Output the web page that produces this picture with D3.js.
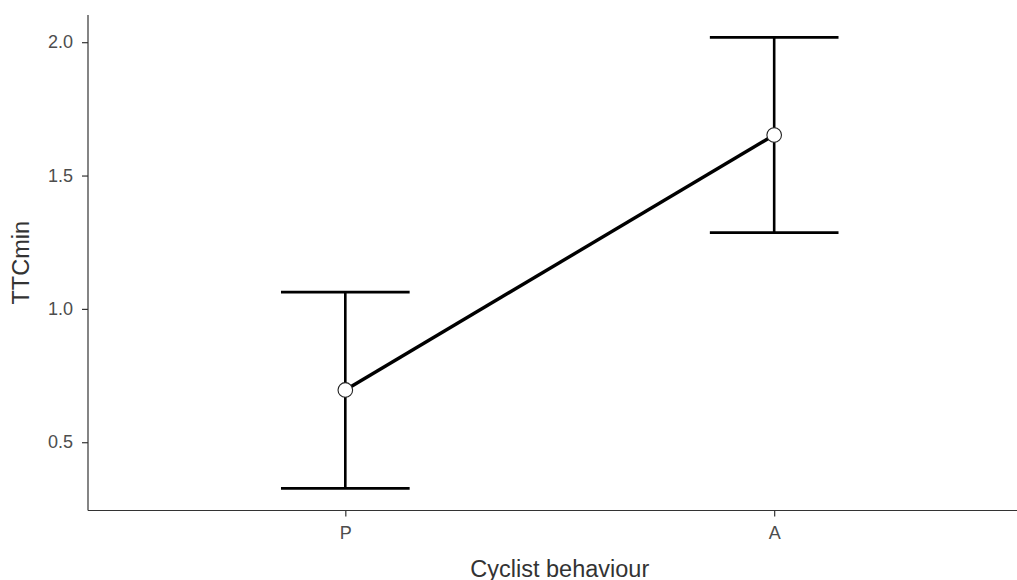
<!DOCTYPE html>
<html><head><meta charset="utf-8">
<script src="https://cdn.jsdelivr.net/npm/d3@7"></script>
<style>body{margin:0;background:#fff;} svg{display:block;}</style>
</head><body>
<svg id="chart" width="1017" height="580"></svg>
<script>
const categories = ["P", "A"];
const means = [0.696, 1.652];
const upper = [1.063, 2.018];
const lower = [0.327, 1.286];
const yTicks = [0.5, 1.0, 1.5, 2.0];
const xTitle = "Cyclist behaviour";
const yTitle = "TTCmin";

(function () {
const data = categories.map((c, i) => ({c, m: means[i], hi: upper[i], lo: lower[i]}));
const svg = d3.select("#chart");
const pLeft = 88, pRight = 1031.5, pTop = 15, pBottom = 510.5;

const x = d3.scalePoint().domain(categories).range([pLeft, pRight]).padding(0.6);
const y = d3.scaleLinear().domain([0.244, 2.102]).range([pBottom, pTop]);
const capHalf = x.step() * 0.15;

const font = "'Liberation Sans', Arial, sans-serif";
const yAxis = svg.append("g").attr("transform", `translate(${pLeft},0)`)
  .call(d3.axisLeft(y).tickValues(yTicks).tickFormat(d3.format(".1f")).tickSize(6).tickPadding(9).tickSizeOuter(0));
const xAxis = svg.append("g").attr("transform", `translate(0,${pBottom})`)
  .call(d3.axisBottom(x).tickSize(6).tickPadding(10).tickSizeOuter(0));
[yAxis, xAxis].forEach(g => {
  g.select(".domain").attr("stroke", "#333").attr("stroke-width", 1.2);
  g.selectAll(".tick line").attr("stroke", "#333").attr("stroke-width", 1.2);
  g.selectAll(".tick text").attr("fill", "#4d4d4d").style("font-family", font).style("font-size", "18px");
});
yAxis.select(".domain").attr("d", `M0,${pTop}V${pBottom}`);
xAxis.select(".domain").attr("d", `M${pLeft},0H${pRight}`);

const eb = svg.append("g").attr("stroke", "#000").attr("stroke-width", 2.6).attr("fill", "none");
data.forEach(d => {
  const cx = x(d.c);
  eb.append("line").attr("x1", cx).attr("x2", cx).attr("y1", y(d.hi)).attr("y2", y(d.lo));
  eb.append("line").attr("x1", cx - capHalf).attr("x2", cx + capHalf).attr("y1", y(d.hi)).attr("y2", y(d.hi));
  eb.append("line").attr("x1", cx - capHalf).attr("x2", cx + capHalf).attr("y1", y(d.lo)).attr("y2", y(d.lo));
});

svg.append("path").datum(data)
  .attr("d", d3.line().x(d => x(d.c)).y(d => y(d.m)))
  .attr("stroke", "#000").attr("stroke-width", 3.4).attr("fill", "none");

svg.append("g").selectAll("circle").data(data).join("circle")
  .attr("cx", d => x(d.c)).attr("cy", d => y(d.m)).attr("r", 7.3)
  .attr("fill", "#fff").attr("stroke", "#222").attr("stroke-width", 1.1);

svg.append("text").attr("x", (pLeft + pRight) / 2).attr("y", 576.5).attr("text-anchor", "middle")
  .style("font-family", font).style("font-size", "23.5px").attr("fill", "#333").text(xTitle);
svg.append("text").attr("transform", `translate(28.5,${(pTop + pBottom) / 2}) rotate(-90)`).attr("text-anchor", "middle")
  .style("font-family", font).style("font-size", "23.5px").attr("fill", "#333").text(yTitle);
})();
</script>
</body></html>
